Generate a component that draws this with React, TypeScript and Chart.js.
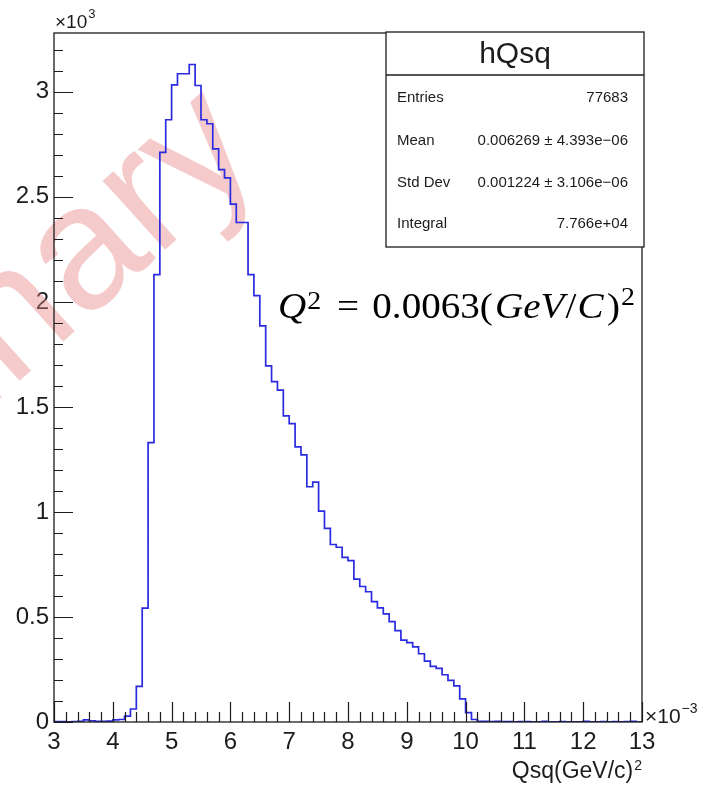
import React, { useEffect, useRef } from "react";
import { Chart, registerables } from "chart.js";

Chart.register(...registerables);

// Histogram definition (x in units of 10^-3 GeV^2, y in units of 10^3 entries)
const X_MIN = 3;
const X_MAX = 13;
const N_BINS = 100;
const Y_MAX = 3.28;

// Bin contents (×10^3), bins of width 0.1 starting at 3.0
const counts: number[] = [
  // 3.0 - 3.9
  0.002, 0.002, 0.001, 0.002, 0.003, 0.010, 0.006, 0.003, 0.003, 0.004,
  // 4.0 - 4.9
  0.010, 0.012, 0.028, 0.062, 0.170, 0.542, 1.330, 2.130, 2.712, 2.867,
  // 5.0 - 5.9
  3.033, 3.086, 3.086, 3.130, 3.030, 2.867, 2.848, 2.728, 2.630, 2.590,
  // 6.0 - 6.9
  2.465, 2.378, 2.378, 2.130, 2.030, 1.886, 1.695, 1.620, 1.580, 1.457,
  // 7.0 - 7.9
  1.420, 1.310, 1.272, 1.120, 1.142, 1.004, 0.922, 0.845, 0.832, 0.784,
  // 8.0 - 8.9
  0.768, 0.680, 0.645, 0.620, 0.573, 0.543, 0.515, 0.478, 0.435, 0.390,
  // 9.0 - 9.9
  0.378, 0.358, 0.325, 0.290, 0.265, 0.255, 0.225, 0.198, 0.172, 0.110,
  // 10.0 - 10.9
  0.045, 0.012, 0.003, 0.003, 0.002, 0.003, 0.002, 0.002, 0.001, 0.002,
  // 11.0 - 11.9
  0.002, 0.001, 0.001, 0.003, 0.001, 0.001, 0.002, 0.001, 0.001, 0.001,
  // 12.0 - 12.9
  0.003, 0.001, 0.001, 0.002, 0.001, 0.002, 0.001, 0.002, 0.003, 0.001,
];

const statsTitle = "hQsq";
const statsLabels = ["Entries", "Mean", "Std Dev", "Integral"];
const statsValues = ["77683", "0.006269 \u00b1 4.393e\u221206", "0.001224 \u00b1 3.106e\u221206", "7.766e+04"];
const xAxisTitle = "Qsq(GeV/c)";
const watermarkText = "Preliminary";

const FONT = '"Liberation Sans", Arial, Helvetica, sans-serif';
const SERIF = '"Liberation Serif", "Times New Roman", serif';
const LINE_COLOR = "#2a2ae0";
const INK = "#1c1c1c";

const rootStyle = {
  id: "rootStyle",
  beforeDatasetsDraw(chart: any) {
    const { ctx } = chart;
    ctx.save();
    ctx.translate(265, 160);
    ctx.rotate((-42 * Math.PI) / 180);
    ctx.font = `176px ${FONT}`;
    ctx.textAlign = "right";
    ctx.textBaseline = "alphabetic";
    ctx.fillStyle = "rgba(232, 128, 128, 0.42)";
    ctx.fillText(watermarkText, 0, 0);
    ctx.restore();
  },
  afterDatasetsDraw(chart: any) {
    const { ctx, chartArea: a } = chart;
    const xs = chart.scales.x;
    const ys = chart.scales.y;
    ctx.save();
    // frame
    ctx.strokeStyle = INK;
    ctx.lineWidth = 1.3;
    ctx.strokeRect(a.left, a.top, a.right - a.left, a.bottom - a.top);

    // x ticks (inside)
    ctx.beginPath();
    ctx.lineWidth = 1.2;
    for (let k = 0; k <= 50; k++) {
      const v = X_MIN + k * 0.2;
      const px = Math.round(xs.getPixelForValue(v)) + 0.5;
      const len = k % 5 === 0 ? 20 : 10;
      ctx.moveTo(px, a.bottom);
      ctx.lineTo(px, a.bottom - len);
    }
    // y ticks (inside)
    for (let k = 0; k * 0.1 <= Y_MAX + 1e-9; k++) {
      const v = k * 0.1;
      const py = Math.round(ys.getPixelForValue(v)) + 0.5;
      const len = k % 5 === 0 ? 19 : 9;
      ctx.moveTo(a.left, py);
      ctx.lineTo(a.left + len, py);
    }
    ctx.stroke();

    // exponent labels
    ctx.fillStyle = INK;
    ctx.textAlign = "left";
    ctx.textBaseline = "alphabetic";
    ctx.font = `19px ${FONT}`;
    ctx.fillText("\u00d710", 55, 28);
    const w1 = ctx.measureText("\u00d710").width;
    ctx.font = `13px ${FONT}`;
    ctx.fillText("3", 55 + w1 + 1, 18);

    ctx.font = `21px ${FONT}`;
    ctx.fillText("\u00d710", 645, 723);
    const w2 = ctx.measureText("\u00d710").width;
    ctx.font = `14px ${FONT}`;
    ctx.fillText("\u22123", 645 + w2 + 1, 713);

    // axis title
    ctx.font = `14px ${FONT}`;
    const supW = ctx.measureText("2").width;
    ctx.textAlign = "left";
    ctx.fillText("2", 642 - supW, 770);
    ctx.font = `23px ${FONT}`;
    ctx.textAlign = "right";
    ctx.fillText(xAxisTitle, 642 - supW - 1, 778);

    // stats box
    const bx = 386, by = 32, bw = 258, bh = 215, sep = 75;
    ctx.fillStyle = "#ffffff";
    ctx.fillRect(bx, by, bw, bh);
    ctx.strokeStyle = INK;
    ctx.lineWidth = 1.3;
    ctx.strokeRect(bx, by, bw, bh);
    ctx.beginPath();
    ctx.moveTo(bx, sep);
    ctx.lineTo(bx + bw, sep);
    ctx.stroke();
    ctx.fillStyle = INK;
    ctx.font = `30px ${FONT}`;
    ctx.textAlign = "center";
    ctx.textBaseline = "alphabetic";
    ctx.fillText(statsTitle, bx + bw / 2, 63);
    ctx.font = `15px ${FONT}`;
    ctx.textBaseline = "middle";
    const rowY = [97.7, 140.7, 183.3, 224.3];
    statsLabels.forEach((lab, i) => {
      ctx.textAlign = "left";
      ctx.fillText(lab, 397, rowY[i]);
      ctx.textAlign = "right";
      ctx.fillText(statsValues[i], 628, rowY[i]);
    });

    // Q^2 annotation (LaTeX-like)
    const S = 35;
    const segs = [
      { t: "Q", it: true, sup: 0, gap: 0 },
      { t: "2", it: false, sup: 9, gap: 1 },
      { t: "=", it: false, sup: 0, gap: 14 },
      { t: "0.0063(", it: false, sup: 0, gap: 12 },
      { t: "GeV", it: true, sup: 0, gap: 2 },
      { t: "/", it: false, sup: 0, gap: 1 },
      { t: "C", it: true, sup: 0, gap: 1 },
      { t: ")", it: false, sup: 0, gap: 3 },
      { t: "2", it: false, sup: 13, gap: 1 },
    ];
    const fontFor = (s: any) =>
      `${s.it ? "italic " : ""}${s.sup ? Math.round(S * 0.7) : S}px ${SERIF}`;
    let total = 0;
    const widths = segs.map((s) => {
      ctx.font = fontFor(s);
      const w = ctx.measureText(s.t).width;
      total += s.gap + w;
      return w;
    });
    const targetW = 357;
    const f = targetW / total;
    ctx.save();
    ctx.translate(278, 318);
    ctx.scale(f, 1);
    ctx.textAlign = "left";
    ctx.textBaseline = "alphabetic";
    ctx.fillStyle = "#000";
    let cx = 0;
    segs.forEach((s, i) => {
      cx += s.gap;
      ctx.font = fontFor(s);
      ctx.fillText(s.t, cx, -s.sup);
      cx += widths[i];
    });
    ctx.restore();

    ctx.restore();
  },
};

export default function App() {
  const canvasRef = useRef<HTMLCanvasElement | null>(null);

  useEffect(() => {
    const canvas = canvasRef.current;
    if (!canvas) return;
    const points = counts.map((c, i) => ({
      x: X_MIN + (i * (X_MAX - X_MIN)) / N_BINS,
      y: c,
    }));
    points.push({ x: X_MAX, y: counts[counts.length - 1] });

    const chart = new Chart(canvas, {
      type: "line",
      data: {
        datasets: [
          {
            data: points,
            stepped: "before",
            borderColor: LINE_COLOR,
            borderWidth: 1.7,
            pointRadius: 0,
            fill: false,
            tension: 0,
          },
        ],
      },
      options: {
        animation: false,
        responsive: false,
        maintainAspectRatio: false,
        layout: { padding: { top: 33, right: 70, left: 0, bottom: 0 } },
        plugins: {
          legend: { display: false },
          tooltip: { enabled: false },
          title: { display: false },
        },
        scales: {
          x: {
            type: "linear",
            min: X_MIN,
            max: X_MAX,
            afterFit: (s: any) => {
              s.height = 65;
            },
            grid: { display: false, drawTicks: false },
            border: { display: false },
            ticks: {
              stepSize: 1,
              autoSkip: false,
              maxRotation: 0,
              includeBounds: false,
              padding: 6,
              color: INK,
              font: { family: FONT, size: 24 },
              callback: (v: any) => String(Math.round(Number(v) * 1000) / 1000),
            },
          },
          y: {
            type: "linear",
            min: 0,
            max: Y_MAX,
            afterFit: (s: any) => {
              s.width = 54;
            },
            grid: { display: false, drawTicks: false },
            border: { display: false },
            ticks: {
              stepSize: 0.5,
              autoSkip: false,
              includeBounds: false,
              padding: 5,
              color: INK,
              font: { family: FONT, size: 24 },
              callback: (v: any) => String(Math.round(Number(v) * 1000) / 1000),
            },
          },
        },
      },
      plugins: [rootStyle],
    } as any);

    return () => chart.destroy();
  }, []);

  return (
    <div style={{ position: "absolute", left: 0, top: 0, width: 712, height: 787, background: "#fff" }}>
      <canvas ref={canvasRef} width={712} height={787} style={{ display: "block", width: 712, height: 787 }} />
    </div>
  );
}
